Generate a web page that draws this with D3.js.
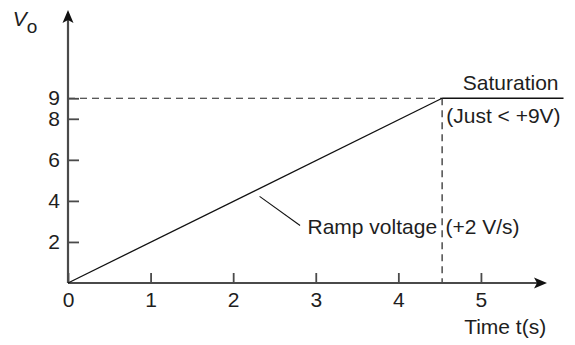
<!DOCTYPE html>
<html>
<head>
<meta charset="utf-8">
<script src="https://cdn.jsdelivr.net/npm/d3@7"></script>
<style>
  html, body { margin: 0; padding: 0; background: #fff; }
  svg { display: block; font-family: "Liberation Sans", Arial, Helvetica, sans-serif; }
</style>
</head>
<body>
<svg id="chart" width="575" height="345"></svg>
<script>
// ---- data ----
const xTicks = [0, 1, 2, 3, 4, 5];
const yTicks = [2, 4, 6, 8, 9];
const rampTime = [0, 4.53];
const rampVolts = [0, 9];
const satTime = [4.53, 6.0];
const satVolts = [9, 9];
const satLevel = 9;
const satStart = 4.53;
const leaderTime = [2.32, 2.81];
const leaderVolts = [4.22, 2.8];
const xDomain = [0, 5.8];
const yDomain = [0, 13.3];

const svg = d3.select("#chart");
const x = d3.scaleLinear().domain(xDomain).range([68, 547]);
const y = d3.scaleLinear().domain(yDomain).range([283, 10]);

const axisColor = "#4a4a4a";
const textColor = "#1e1e1e";
const fs = 21;

// dashed guides
svg.append("line")
  .attr("x1", x(0)).attr("x2", x(satStart))
  .attr("y1", y(satLevel)).attr("y2", y(satLevel))
  .attr("stroke", "#222").attr("stroke-width", 1.2).attr("stroke-dasharray", "7,5");
svg.append("line")
  .attr("x1", x(satStart)).attr("x2", x(satStart))
  .attr("y1", y(satLevel)).attr("y2", y(0))
  .attr("stroke", "#222").attr("stroke-width", 1.2).attr("stroke-dasharray", "7,5");

// axes
const yAxis = d3.axisLeft(y).tickValues(yTicks).tickFormat(d3.format("d"))
  .tickSizeInner(-11).tickSizeOuter(0).tickPadding(8);
const gy = svg.append("g").attr("transform", `translate(${x(0)},0)`).call(yAxis);
gy.select(".domain").remove();
gy.selectAll(".tick line").attr("stroke", axisColor).attr("stroke-width", 1.8);
gy.selectAll(".tick text").attr("fill", textColor).attr("font-size", fs).attr("font-family", null);

const xAxis = d3.axisBottom(x).tickValues(xTicks).tickFormat(d3.format("d"))
  .tickSizeInner(-10).tickSizeOuter(0).tickPadding(9);
const gx = svg.append("g").attr("transform", `translate(0,${y(0)})`).call(xAxis);
gx.select(".domain").remove();
gx.selectAll(".tick line").attr("stroke", axisColor).attr("stroke-width", 1.8);
gx.selectAll(".tick text").attr("fill", textColor).attr("font-size", fs).attr("font-family", null);

// axis lines with arrows
svg.append("line")
  .attr("x1", x(0)).attr("x2", x(0))
  .attr("y1", y(0)).attr("y2", y(yDomain[1]) + 6)
  .attr("stroke", axisColor).attr("stroke-width", 2.2);
svg.append("line")
  .attr("x1", x(0)).attr("x2", x(xDomain[1]) - 6)
  .attr("y1", y(0)).attr("y2", y(0))
  .attr("stroke", axisColor).attr("stroke-width", 2.2);

// arrowheads
const ax = x(0), ay = y(yDomain[1]);
svg.append("path")
  .attr("d", `M${ax},${ay} L${ax + 5.5},${ay + 13} L${ax},${ay + 10} L${ax - 5.5},${ay + 13} Z`)
  .attr("fill", "#111");
const bx = x(xDomain[1]), by = y(0);
svg.append("path")
  .attr("d", `M${bx},${by} L${bx - 13},${by - 5.5} L${bx - 10},${by} L${bx - 13},${by + 5.5} Z`)
  .attr("fill", "#111");

// ramp and saturation
const line = d3.line().x(d => x(d[0])).y(d => y(d[1]));
svg.append("path")
  .datum(d3.zip(rampTime, rampVolts))
  .attr("d", line).attr("fill", "none").attr("stroke", "#111").attr("stroke-width", 1.3);
svg.append("path")
  .datum(d3.zip(satTime, satVolts))
  .attr("d", line).attr("fill", "none").attr("stroke", "#111").attr("stroke-width", 1.3);
svg.append("path")
  .datum(d3.zip(leaderTime, leaderVolts))
  .attr("d", line).attr("fill", "none").attr("stroke", "#111").attr("stroke-width", 1.1);

// labels
function label(tx, ty, s, anchor) {
  return svg.append("text")
    .attr("x", x(tx)).attr("y", y(ty))
    .attr("text-anchor", anchor || "start")
    .attr("font-size", fs).attr("fill", textColor).text(s);
}
label(5.36, 9.4, "Saturation", "middle");
label(4.58, 7.8, "(Just < +9V)");
label(2.90, 2.38, "Ramp voltage");
label(4.57, 2.38, "(+2 V/s)");
label(5.79, -2.5, "Time t(s)", "end");

const vo = svg.append("text")
  .attr("x", x(-0.67)).attr("y", y(12.5))
  .attr("font-size", fs).attr("fill", textColor);
vo.append("tspan").attr("font-style", "italic").text("V");
vo.append("tspan").attr("dy", 7).attr("font-size", 19).text("o");
</script>
</body>
</html>
